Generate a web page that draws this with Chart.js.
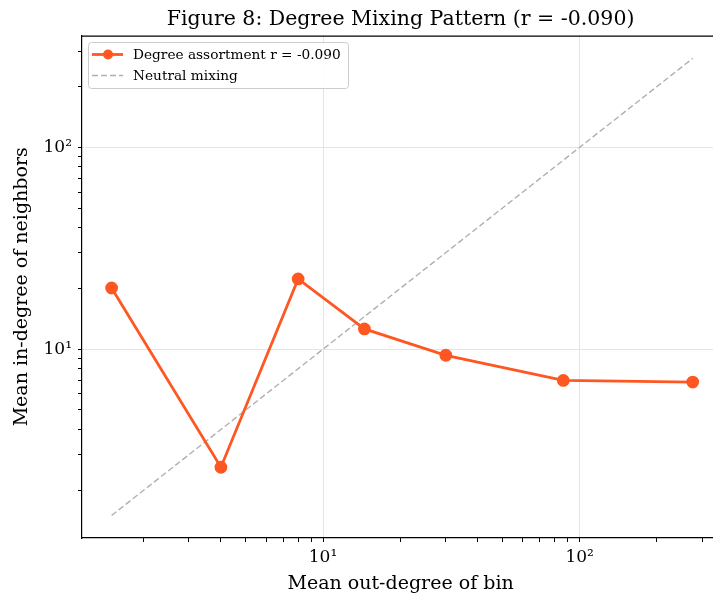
<!DOCTYPE html>
<html>
<head>
<meta charset="utf-8">
<script src="https://cdn.jsdelivr.net/npm/chart.js@4.4.1/dist/chart.umd.min.js"></script>
<style>
  html, body { margin: 0; padding: 0; background: #fff; overflow: hidden; }
  #wrap { width: 727px; height: 597px; }
</style>
</head>
<body>
<div id="wrap"><canvas id="mixingChart" width="727" height="597"></canvas></div>
<script>
// values
const outDegree = [1.50, 4.0, 8.0, 14.5, 30.1, 86.4, 276];
const inDegreeNeighbors = [20.1, 2.6, 22.3, 12.6, 9.33, 7.0, 6.87];
const neutralX = [1.50, 276];
const neutralY = [1.50, 276];
const seriesLabels = ["Degree assortment r = -0.090", "Neutral mixing"];
const titleText = "Figure 8: Degree Mixing Pattern (r = -0.090)";

const serif = "'DejaVu Serif', serif";
const orange = "#ff5722";
const gridColor = "#e4e4e4";

const supers = { "0": "\u2070", "1": "\u00b9", "2": "\u00b2", "3": "\u00b3" };

function isPow10(v) {
    const e = Math.log10(v);
    return Math.abs(e - Math.round(e)) < 1e-6;
}
function isNiceTick(v) {
    const e = Math.floor(Math.log10(v) + 1e-9);
    const s = v / Math.pow(10, e);
    return Math.abs(s - Math.round(s)) < 1e-6;
}
function powLabel(v) {
    if (!isPow10(v)) return "";
    const e = String(Math.round(Math.log10(v)));
    return "10" + e.split("").map(c => supers[c]).join("");
}

const framePlugin = {
    id: "frame",
    afterDraw(chart) {
        const ctx = chart.ctx;
        const a = chart.chartArea;
        ctx.save();
        ctx.strokeStyle = "#000";
        ctx.lineWidth = 1.2;
        ctx.beginPath();
        ctx.moveTo(a.left, a.top + 0.5);
        ctx.lineTo(a.right, a.top + 0.5);
        ctx.stroke();

        // legend box, upper left
        const x0 = 88, y0 = 42.5, w = 260, h = 46;
        ctx.fillStyle = "rgba(255,255,255,0.85)";
        ctx.strokeStyle = "#cccccc";
        ctx.lineWidth = 1;
        ctx.beginPath();
        ctx.roundRect(x0 + 0.5, y0, w, h, 3);
        ctx.fill();
        ctx.stroke();

        const ds = chart.data.datasets;
        const rows = [54.5, 75.5];
        ctx.font = "13.7px " + serif;
        ctx.textBaseline = "middle";
        ds.forEach((d, i) => {
            const y = rows[i];
            ctx.strokeStyle = d.borderColor;
            ctx.lineWidth = d.borderWidth;
            ctx.setLineDash(d.borderDash || []);
            ctx.beginPath();
            ctx.moveTo(92, y);
            ctx.lineTo(123, y);
            ctx.stroke();
            ctx.setLineDash([]);
            if (d.pointRadius > 0) {
                ctx.fillStyle = d.pointBackgroundColor;
                ctx.beginPath();
                ctx.arc(108, y, d.pointRadius, 0, Math.PI * 2);
                ctx.fill();
            }
            ctx.fillStyle = "#000";
            ctx.fillText(d.label, 133, y + 1);
        });
        ctx.restore();
    }
};

const ctx = document.getElementById("mixingChart").getContext("2d");

new Chart(ctx, {
    type: "line",
    data: {
        datasets: [
            {
                label: seriesLabels[0],
                data: outDegree.map((x, i) => ({ x: x, y: inDegreeNeighbors[i] })),
                borderColor: orange,
                backgroundColor: orange,
                pointBackgroundColor: orange,
                pointBorderColor: orange,
                borderWidth: 2.8,
                pointRadius: 5,
                pointHoverRadius: 5,
                tension: 0,
                order: 0
            },
            {
                label: seriesLabels[1],
                data: neutralX.map((x, i) => ({ x: x, y: neutralY[i] })),
                borderColor: "#b0b0b0",
                borderWidth: 1.4,
                borderDash: [6, 3],
                pointRadius: 0,
                tension: 0,
                order: 1
            }
        ]
    },
    options: {
        responsive: false,
        animation: false,
        devicePixelRatio: 1,
        layout: { padding: { top: 0, right: 0, bottom: 0, left: 0 } },
        plugins: {
            legend: { display: false },
            tooltip: { enabled: false },
            title: {
                display: true,
                text: titleText,
                fullSize: false,
                color: "#000",
                font: { family: serif, size: 20.5, weight: "normal" },
                padding: { top: 7, bottom: 4 }
            }
        },
        scales: {
            x: {
                type: "logarithmic",
                min: 1.15,
                max: 350,
                afterBuildTicks: s => { s.ticks = s.ticks.filter(t => isNiceTick(t.value)); },
                afterFit: s => { s.height = 59; },
                border: { color: "#000", width: 1.2 },
                grid: {
                    color: c => (c.tick && isPow10(c.tick.value)) ? gridColor : "rgba(0,0,0,0)",
                    tickColor: "#000",
                    tickLength: 4,
                    drawTicks: true
                },
                ticks: {
                    autoSkip: false,
                    maxRotation: 0,
                    padding: 5,
                    color: "#000",
                    font: { family: serif, size: 17 },
                    callback: v => powLabel(v)
                },
                title: {
                    display: true,
                    text: "Mean out-degree of bin",
                    color: "#000",
                    font: { family: serif, size: 19 },
                    padding: { top: 2, bottom: 2 }
                }
            },
            y: {
                type: "logarithmic",
                min: 1.16,
                max: 358,
                afterBuildTicks: s => { s.ticks = s.ticks.filter(t => isNiceTick(t.value)); },
                afterFit: s => { s.width = 82; },
                border: { color: "#000", width: 1.2 },
                grid: {
                    color: c => (c.tick && isPow10(c.tick.value)) ? gridColor : "rgba(0,0,0,0)",
                    tickColor: "#000",
                    tickLength: 4,
                    drawTicks: true
                },
                ticks: {
                    autoSkip: false,
                    padding: 6,
                    color: "#000",
                    font: { family: serif, size: 17 },
                    callback: v => powLabel(v)
                },
                title: {
                    display: true,
                    text: "Mean in-degree of neighbors",
                    color: "#000",
                    font: { family: serif, size: 19 },
                    padding: { top: 11, bottom: 0 }
                }
            }
        }
    },
    plugins: [framePlugin]
});
</script>
</body>
</html>
